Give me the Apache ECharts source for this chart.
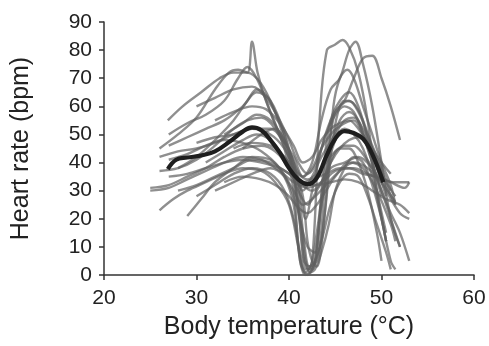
<!DOCTYPE html>
<html><head><meta charset="utf-8">
<script src="https://cdn.jsdelivr.net/npm/echarts@6/dist/echarts.min.js"></script>
<style>html,body{margin:0;padding:0;background:#fff}#c{width:489px;height:346px}</style>
</head><body><div id="c"></div>
<script>
const xTicks = [20, 30, 40, 50, 60];
const yTicks = [0, 10, 20, 30, 40, 50, 60, 70, 80, 90];
const xTitle = 'Body temperature (°C)';
const yTitle = 'Heart rate (bpm)';

const meanLine = [[26.9,37.7],[27.8,41],[29,41.8],[30.5,42.5],[32,44],[33.6,47.5],[35,51],[36,52.5],[37,51.5],[38,48],[39,43.5],[40,38],[41,34],[42,32.3],[43,34.5],[44,42],[45,48.5],[46,51.2],[47,50.5],[48,48.5],[49,43],[50.2,33]];

const indA = [[27,50],[29,54],[31,57],[33,62],[34.5,70],[35.5,74],[36.5,70],[38,58],[39.5,45],[40.5,30],[41.2,5],[41.8,1],[42.5,5],[43.3,55],[44.1,80],[45,82],[45.8,83.6],[46.5,81],[47.5,72],[48.5,55],[49.5,30],[50.5,12]];
const indB = [[26,45],[28,50],[30,56],[32,66],[33.5,72],[34.5,73],[35.5,72],[36,83],[36.6,72],[37.5,62],[39,50],[40.5,42],[41.5,35],[42.5,40],[43.5,55],[44.5,66],[45.5,70],[46.5,80],[47.2,83],[48,75],[49,60],[50,40],[51,20],[52,10]];
const indC = [[26.9,55],[28.5,60],[30.5,65],[32.5,70],[34,72],[35.5,72],[37,68],[38.5,58],[40,45],[41,25],[41.6,5],[42.2,3],[43,15],[44,40],[45,58],[46,62],[47,70],[48,77],[49,78],[50,70],[51,60],[52,48]];
const indD = [[26,23],[27.5,27],[29,30],[31,33],[33,36],[35,38],[37,37],[38.5,33],[40,25],[41,10],[41.5,2],[42,0],[42.8,5],[43.5,25],[44.5,40],[45.5,45],[46.5,45],[47.5,40],[48.5,30],[49.5,15],[50,5]];
const indE = [[29,21],[30.5,27],[32,33],[34,38],[36,42],[38,41],[39.5,35],[40.5,25],[41.2,5],[41.8,0],[42.5,2],[43.3,10],[44,35],[45,48],[46,52],[47,50],[48,45],[49,35],[50,20],[51,5],[51.5,2]];
const indF = [[25,31],[27,32],[29,35],[31,38],[33,42],[35,45],[37,46],[38.5,44],[40,38],[41,30],[42,25],[43,30],[44.5,38],[46,40],[47.5,42],[49,38],[50.5,30],[52,22],[53,20]];
const indG = [[25,30],[27,31],[29,34],[31,37],[33,40],[35,42],[37,41],[39,37],[40.5,33],[42,31],[43.5,33],[45,37],[46.5,38],[48,36],[49.5,35],[51,33],[52.5,31],[53,33]];
const indH = [[26,37],[28,38],[30,41],[32,46],[34,52],[35.5,55],[37,56],[38.5,52],[40,42],[41,33],[41.8,20],[42.5,30],[43.5,45],[44.5,55],[45.5,60],[46.5,62],[47.5,58],[48.5,50],[49.5,42],[50.5,32],[51.5,25]];
const indI = [[26,42],[28,44],[30,45],[32,47],[34,50],[36,52],[38,50],[39.5,45],[40.5,38],[41.5,30],[42.5,35],[43.5,42],[45,50],[46,55],[47,56],[48,52],[49,45],[50,38],[51,30]];
const indJ = [[27,46],[29,49],[31,52],[33,55],[35,60],[36.5,65],[38,62],[39.5,50],[40.5,35],[41.3,15],[41.8,3],[42.5,2],[43,10],[43.8,40],[44.5,55],[45.5,62],[46.5,65],[47.5,60],[48.5,48],[49.5,30],[50.5,15]];
const indK = [[28,38],[30,42],[32,48],[34,55],[35.5,62],[36.5,66],[37.5,64],[38.5,58],[39.5,48],[40.5,35],[41.2,20],[42,10],[42.8,8],[43.5,25],[44.5,45],[45.5,55],[46.5,58],[47.5,55],[48.5,45],[49.5,35],[50.5,25],[51.5,15],[52,10]];
const indL = [[30,28],[32,32],[34,36],[36,38],[38,36],[39.5,30],[40.5,20],[41.2,8],[41.8,2],[42.5,3],[43.5,12],[44.5,25],[45.5,33],[46.5,36],[47.5,35],[48.5,28],[49.5,18],[50.5,8],[51,2]];
const indM = [[31,40],[33,44],[35,48],[36.5,50],[38,48],[39.5,42],[41,36],[42,34],[43,36],[44,40],[45,44],[46,46],[47,46],[48,43],[49,38],[50,30],[51,22],[52,15],[53,5]];
const indN = [[27,35],[29,36],[31,38],[33,40],[35,41],[37,40],[39,38],[40.5,35],[41.5,33],[42.5,34],[44,36],[45.5,38],[47,38],[48.5,36],[50,34],[51.5,33],[53,33]];
const indO = [[30,60],[32,63],[34,66],[36,67],[37.5,63],[39,55],[40,48],[41,40],[42,36],[43,40],[44,50],[45,57],[46,60],[47,58],[48,50],[49,40],[50,28]];
const indP = [[32,55],[34,58],[36,60],[37.5,59],[39,54],[40.5,46],[41.5,40],[42.5,42],[43.5,48],[44.5,52],[45.5,54],[46.5,55],[47.5,52],[48.5,47],[49.5,38],[50.5,28]];
const indQ = [[33,50],[35,54],[36.5,57],[38,55],[39.5,48],[40.5,40],[41.5,28],[42,12],[42.5,5],[43,3],[43.5,10],[44.2,35],[44.8,60],[45.5,70],[46.3,73],[47,70],[48,60],[49,50],[50,40],[51,32],[51.5,25]];
const indR = [[28,30],[30,32],[32,35],[34,38],[36,41],[38,40],[40,36],[41.5,32],[43,32],[44.5,33],[46,34],[47.5,33],[49,30],[50.5,27],[52,25],[53,22]];
const indS = [[30,47],[32,49],[34,50],[36,52],[38,52],[39.5,47],[40.5,40],[41.2,25],[41.7,10],[42.2,3],[43,5],[43.8,20],[44.6,45],[45.3,58],[46,62],[47,61],[48,55],[49,45],[50,35]];
const indT = [[27,41],[29,43],[31,46],[33,48],[35,47],[37,44],[39,38],[40.5,30],[41.5,25],[42.5,27],[44,32],[45.5,37],[47,40],[48.5,38],[50,33],[51.5,26]];
const indU = [[34,45],[36,47],[38,46],[39.5,42],[40.5,37],[41.5,32],[42.5,30],[43.5,33],[44.5,40],[45.5,45],[46.5,48],[47.5,49],[48.5,46],[49.5,40],[50.5,33],[51.5,28]];
const indV = [[32,30],[34,33],[36,36],[38,38],[39.5,35],[40.5,28],[41.3,18],[41.8,5],[42.3,1],[42.8,2],[43.5,8],[44.3,18],[45,30],[46,38],[47,42],[48,40],[49,32],[50,20],[50.5,12]];
const indW = [[33,33],[35,35],[37,34],[38.5,32],[40,28],[41,24],[42,22],[43,25],[44,30],[45,35],[46.5,40],[48,38],[49.5,30],[51,18],[51.5,12]];
const indX = [[35,45],[37,50],[38.5,52],[39.5,48],[40.5,40],[41.5,35],[42.5,38],[43.5,45],[44.5,50],[45.5,53],[47,55],[48,50],[49,45],[50,40],[51,36]];

const individuals = [indA,indB,indC,indD,indE,indF,indG,indH,indI,indJ,indK,indL,indM,indN,indO,indP,indQ,indR,indS,indT,indU,indV,indW,indX];

const chart = echarts.init(document.getElementById('c'), null, {renderer:'canvas'});
const font = 'Liberation Sans, Arial, sans-serif';
const series = individuals.map(d => ({
  type:'line', data:d, smooth:0.35, symbol:'none', silent:true,
  lineStyle:{color:'rgba(95,95,95,0.7)', width:2.4}
}));
series.push({type:'line', data:meanLine, smooth:0.4, symbol:'none', silent:true, z:5,
  lineStyle:{color:'#1e1e1e', width:4.2}});

chart.setOption({
  animation:false,
  grid:{left:104, right:15, top:22, bottom:71, containLabel:false},
  xAxis:{type:'value', min:xTicks[0], max:xTicks[xTicks.length-1], interval:10,
    name:xTitle, nameLocation:'middle', nameGap:40,
    nameTextStyle:{fontFamily:font, fontSize:25, color:'#222'},
    axisLine:{lineStyle:{color:'#333', width:1.5}},
    axisTick:{show:true, length:5, lineStyle:{color:'#333', width:1.5}},
    axisLabel:{fontFamily:font, fontSize:21, color:'#222', margin:13},
    splitLine:{show:false}},
  yAxis:{type:'value', min:yTicks[0], max:yTicks[yTicks.length-1], interval:10,
    name:yTitle, nameLocation:'middle', nameGap:70,
    nameTextStyle:{fontFamily:font, fontSize:25, color:'#222'},
    axisLine:{show:true, lineStyle:{color:'#333', width:1.5}},
    axisTick:{show:true, length:5, lineStyle:{color:'#333', width:1.5}},
    axisLabel:{fontFamily:font, fontSize:21, color:'#222', margin:12},
    splitLine:{show:false}},
  series:series
});
</script></body></html>
